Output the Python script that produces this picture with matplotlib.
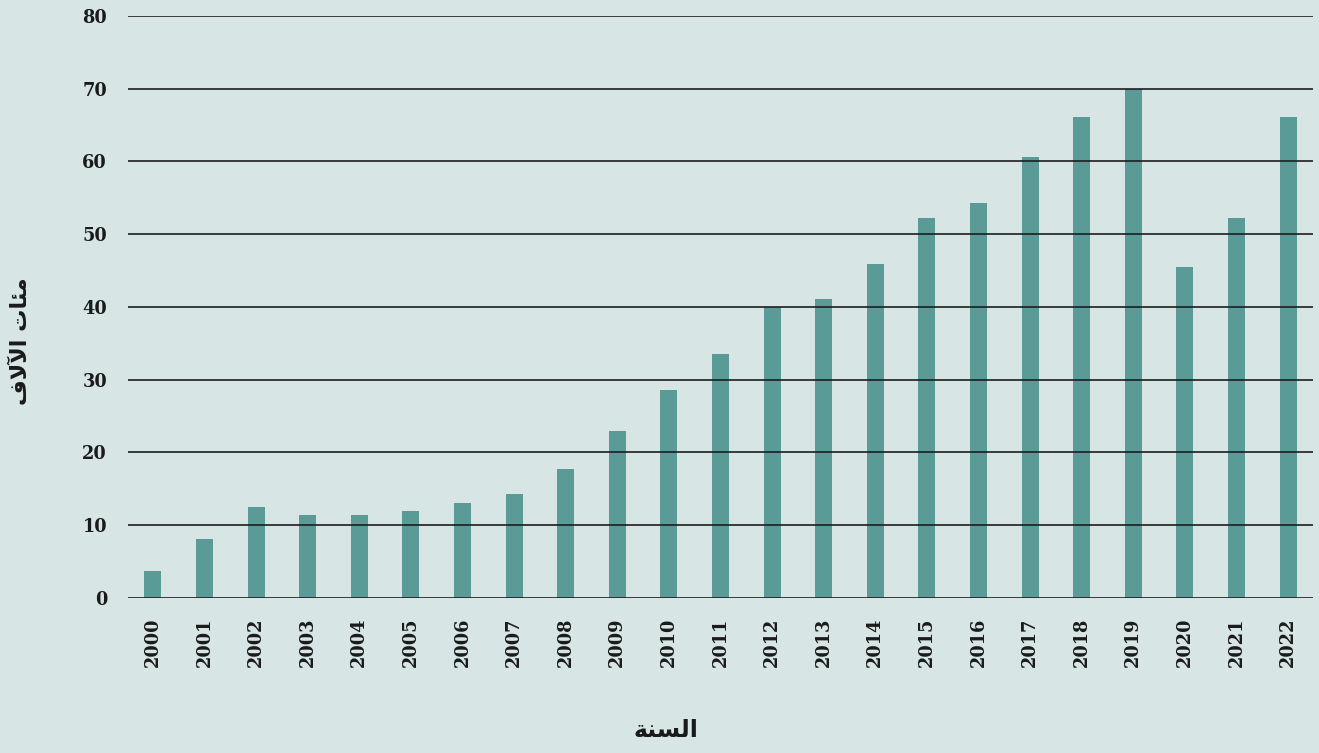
import matplotlib.pyplot as plt
import numpy as np

# ── data ──
years = [str(y) for y in range(2000, 2023)]
values = [3.7, 8.1, 12.5, 11.4, 11.4, 12.0, 13.1, 14.3, 17.7, 23.0, 28.6, 33.5,
          40.0, 41.1, 45.9, 52.2, 54.3, 60.6, 66.1, 70.0, 45.5, 52.2, 66.1]
yticks = [0, 10, 20, 30, 40, 50, 60, 70, 80]

# Arabic labels in presentation forms, visual order (matplotlib does no shaping)
xlabel_ar = "\uFE94\uFEE8\uFEB4\uFEDF\uFE8D"                       # السنة
ylabel_ar = "\uFED1\uFEFB\uFEF5\uFE8D \uFE95\uFE8E\uFE8C\uFEE3"     # مئات الآلاف

BG = '#d7e6e5'
BAR = '#5a9a97'
TXT = '#1a1a1a'

fig = plt.figure(figsize=(13.19, 7.53), dpi=100, facecolor=BG)
ax = fig.add_axes([0.097, 0.206, 0.8985, 0.773])
ax.set_facecolor(BG)

x = np.arange(len(years))
ax.bar(x, values, width=0.33, color=BAR, zorder=2)

ax.set_xlim(-0.485, len(years) - 1 + 0.485)
ax.set_ylim(0, 80)
ax.set_yticks(yticks)
ax.yaxis.grid(True, color='#1e1e1e', lw=1.2, zorder=3)
ax.set_axisbelow(False)
for s in ax.spines.values():
    s.set_visible(False)
ax.tick_params(length=0)
ax.tick_params(axis='y', pad=15)
ax.tick_params(axis='x', pad=14)

ax.set_xticks(x)
ax.set_xticklabels(years, rotation=90, fontsize=12.8, fontweight='bold',
                   family='DejaVu Serif', color=TXT)
for lbl in ax.get_yticklabels():
    lbl.set_fontsize(12.8)
    lbl.set_fontweight('bold')
    lbl.set_family('DejaVu Serif')
    lbl.set_color(TXT)

fig.text(0.505, 0.03, xlabel_ar, ha='center', va='center', fontsize=17,
         fontweight='bold', family=['DejaVu Sans'], color=TXT)
fig.text(0.016, 0.547, ylabel_ar, ha='center', va='center', rotation=90,
         fontsize=16, fontweight='bold', family=['DejaVu Sans'], color=TXT)

fig.savefig('out.png', dpi=100, facecolor=BG)
